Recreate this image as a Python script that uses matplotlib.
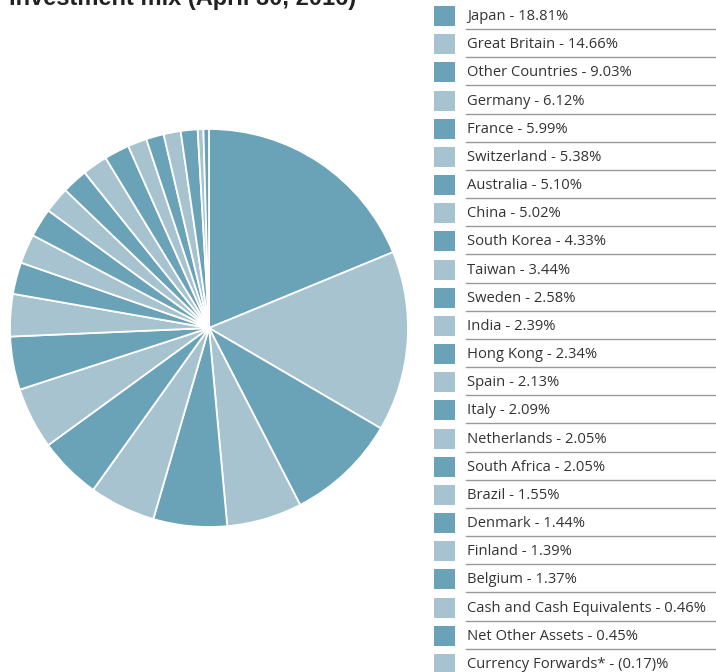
import matplotlib.pyplot as plt
from matplotlib.patches import Rectangle

names = ["Japan", "Great Britain", "Other Countries", "Germany", "France", "Switzerland",
         "Australia", "China", "South Korea", "Taiwan", "Sweden", "India", "Hong Kong",
         "Spain", "Italy", "Netherlands", "South Africa", "Brazil", "Denmark", "Finland",
         "Belgium", "Cash and Cash Equivalents", "Net Other Assets", "Currency Forwards*"]
weights = [18.81, 14.66, 9.03, 6.12, 5.99, 5.38, 5.10, 5.02, 4.33, 3.44, 2.58, 2.39, 2.34,
           2.13, 2.09, 2.05, 2.05, 1.55, 1.44, 1.39, 1.37, 0.46, 0.45, -0.17]

dark = "#6aa2b7"
light = "#a6c3cf"
colors = [dark if i % 2 == 0 else light for i in range(len(names))]

W, H = 716, 672
fig = plt.figure(figsize=(W / 100, H / 100), dpi=100)

# pie (negative slice can't be drawn)
pos = [(v, c) for v, c in zip(weights, colors) if v > 0]
ax = fig.add_axes([9 / W, (H - 328 - 200) / H, 400 / W, 400 / H])
ax.pie([p[0] for p in pos], colors=[p[1] for p in pos], startangle=90, counterclock=False,
       wedgeprops=dict(edgecolor="white", linewidth=1.3))
ax.set_xlim(-1.005, 1.005)
ax.set_ylim(-1.005, 1.005)
ax.set_aspect("equal")
ax.axis("off")

# title, cut off by the top edge
fig.text(9 / W, 1 - 10 / H, "Investment mix (April 30, 2016)", fontsize=17, fontweight="bold",
         family="Liberation Sans", color="#222222", va="bottom")

# legend
lg = fig.add_axes([0, 0, 1, 1])
lg.set_xlim(0, W)
lg.set_ylim(H, 0)
lg.axis("off")
step = 28.17
for i, (n, v) in enumerate(zip(names, weights)):
    y = 16 + i * step
    lg.add_patch(Rectangle((434, y - 10), 21, 20, color=colors[i], lw=0))
    pct = f"({abs(v):.2f})%" if v < 0 else f"{v:.2f}%"
    lg.text(467, y + 0.5, f"{n} - {pct}", fontsize=10.6, family="Open Sans", color="#333333",
            va="center")
    if i < len(names) - 1:
        lg.plot([466, W], [y + 13, y + 13], color="#999999", lw=1)

fig.savefig("out.png", dpi=100)
